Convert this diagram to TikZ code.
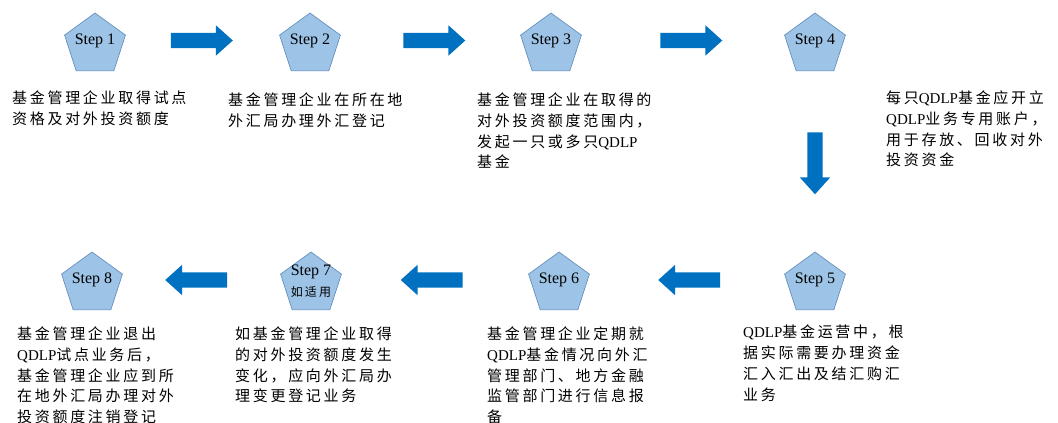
\documentclass[tikz,border=0pt]{standalone}
\usepackage{fontspec}
\setmainfont{Liberation Serif}
\newfontfamily\cjkf{Noto Sans CJK SC}[LetterSpace=18]
\usetikzlibrary{shapes.geometric,shapes.arrows}
\newcommand\qdlp{{\rmfamily QDLP}}
\definecolor{pentfill}{HTML}{9DC3E6}
\definecolor{pentline}{HTML}{5B87B8}
\definecolor{arrowblue}{HTML}{0070C0}
\tikzset{
  pent/.style={regular polygon, regular polygon sides=5, minimum size=64pt, inner sep=0pt, fill=pentfill, draw=pentline, line width=0.6pt},
  steplab/.style={font=\fontsize{16}{18}\selectfont, inner sep=0pt, align=center},
  barrow/.style={single arrow, fill=arrowblue, draw=none, minimum height=62pt, inner sep=7.5pt, single arrow head extend=7.5pt, single arrow tip angle=84, anchor=center},
  desc/.style={anchor=north west, inner sep=0pt, align=left, font=\cjkf\fontsize{15}{20.8}\selectfont}
}
\begin{document}
\begin{tikzpicture}[x=1pt,y=-1pt]
\useasboundingbox (0,0) rectangle (1058,423);
% pentagons
\node[pent] (s1) at (95,45) {};
\node[pent] (s2) at (310,45) {};
\node[pent] (s3) at (551,45) {};
\node[pent] (s4) at (815,45) {};
\node[pent] (s5) at (815,284) {};
\node[pent] (s6) at (559,284) {};
\node[pent] (s7) at (311,284) {};
\node[pent] (s8) at (92,284) {};
% labels
\node[steplab] (l1) at ([yshift=4pt]s1.center) {Step 1};
\node[steplab] (l2) at ([yshift=4pt]s2.center) {Step 2};
\node[steplab] (l3) at ([yshift=4pt]s3.center) {Step 3};
\node[steplab] (l4) at ([yshift=4pt]s4.center) {Step 4};
\node[steplab] (l5) at ([yshift=4pt]s5.center) {Step 5};
\node[steplab] (l6) at ([yshift=4pt]s6.center) {Step 6};
\node[steplab] (l8) at ([yshift=4pt]s8.center) {Step 8};
\node[steplab] (l7a) at ([yshift=12pt]s7.center) {Step 7};
\node[inner sep=0pt, font=\cjkf\fontsize{12}{14}\selectfont] (l7b) at ([yshift=-8pt]s7.center) {如适用};
% block arrows
\node[barrow] (a1) at (197.5,40.5) {};
\node[barrow] (a2) at (430,40.5) {};
\node[barrow] (a3) at (687,40.5) {};
\node[barrow, rotate=-90] (a4) at (815,159) {};
\node[barrow, rotate=180] (a5) at (693.5,280) {};
\node[barrow, rotate=180] (a6) at (436,280) {};
\node[barrow, rotate=180] (a7) at (200.5,280) {};
% descriptions
\node[desc] (t1) at (12,90.5) {基金管理企业取得试点\\资格及对外投资额度};
\node[desc] (t2) at (228,92.5) {基金管理企业在所在地\\外汇局办理外汇登记};
\node[desc] (t3) at (477,92.5) {基金管理企业在取得的\\对外投资额度范围内，\\发起一只或多只\qdlp\\基金};
\node[desc] (t4) at (886,90.5) {每只\qdlp 基金应开立\\\qdlp 业务专用账户，\\用于存放、回收对外\\投资资金};
\node[desc] (t5) at (743,325) {\qdlp 基金运营中，根\\据实际需要办理资金\\汇入汇出及结汇购汇\\业务};
\node[desc] (t6) at (487,326.5) {基金管理企业定期就\\\qdlp 基金情况向外汇\\管理部门、地方金融\\监管部门进行信息报\\备};
\node[desc] (t7) at (235,326.5) {如基金管理企业取得\\的对外投资额度发生\\变化，应向外汇局办\\理变更登记业务};
\node[desc] (t8) at (17,326.5) {基金管理企业退出\\\qdlp 试点业务后，\\基金管理企业应到所\\在地外汇局办理对外\\投资额度注销登记};
\end{tikzpicture}
\end{document}
